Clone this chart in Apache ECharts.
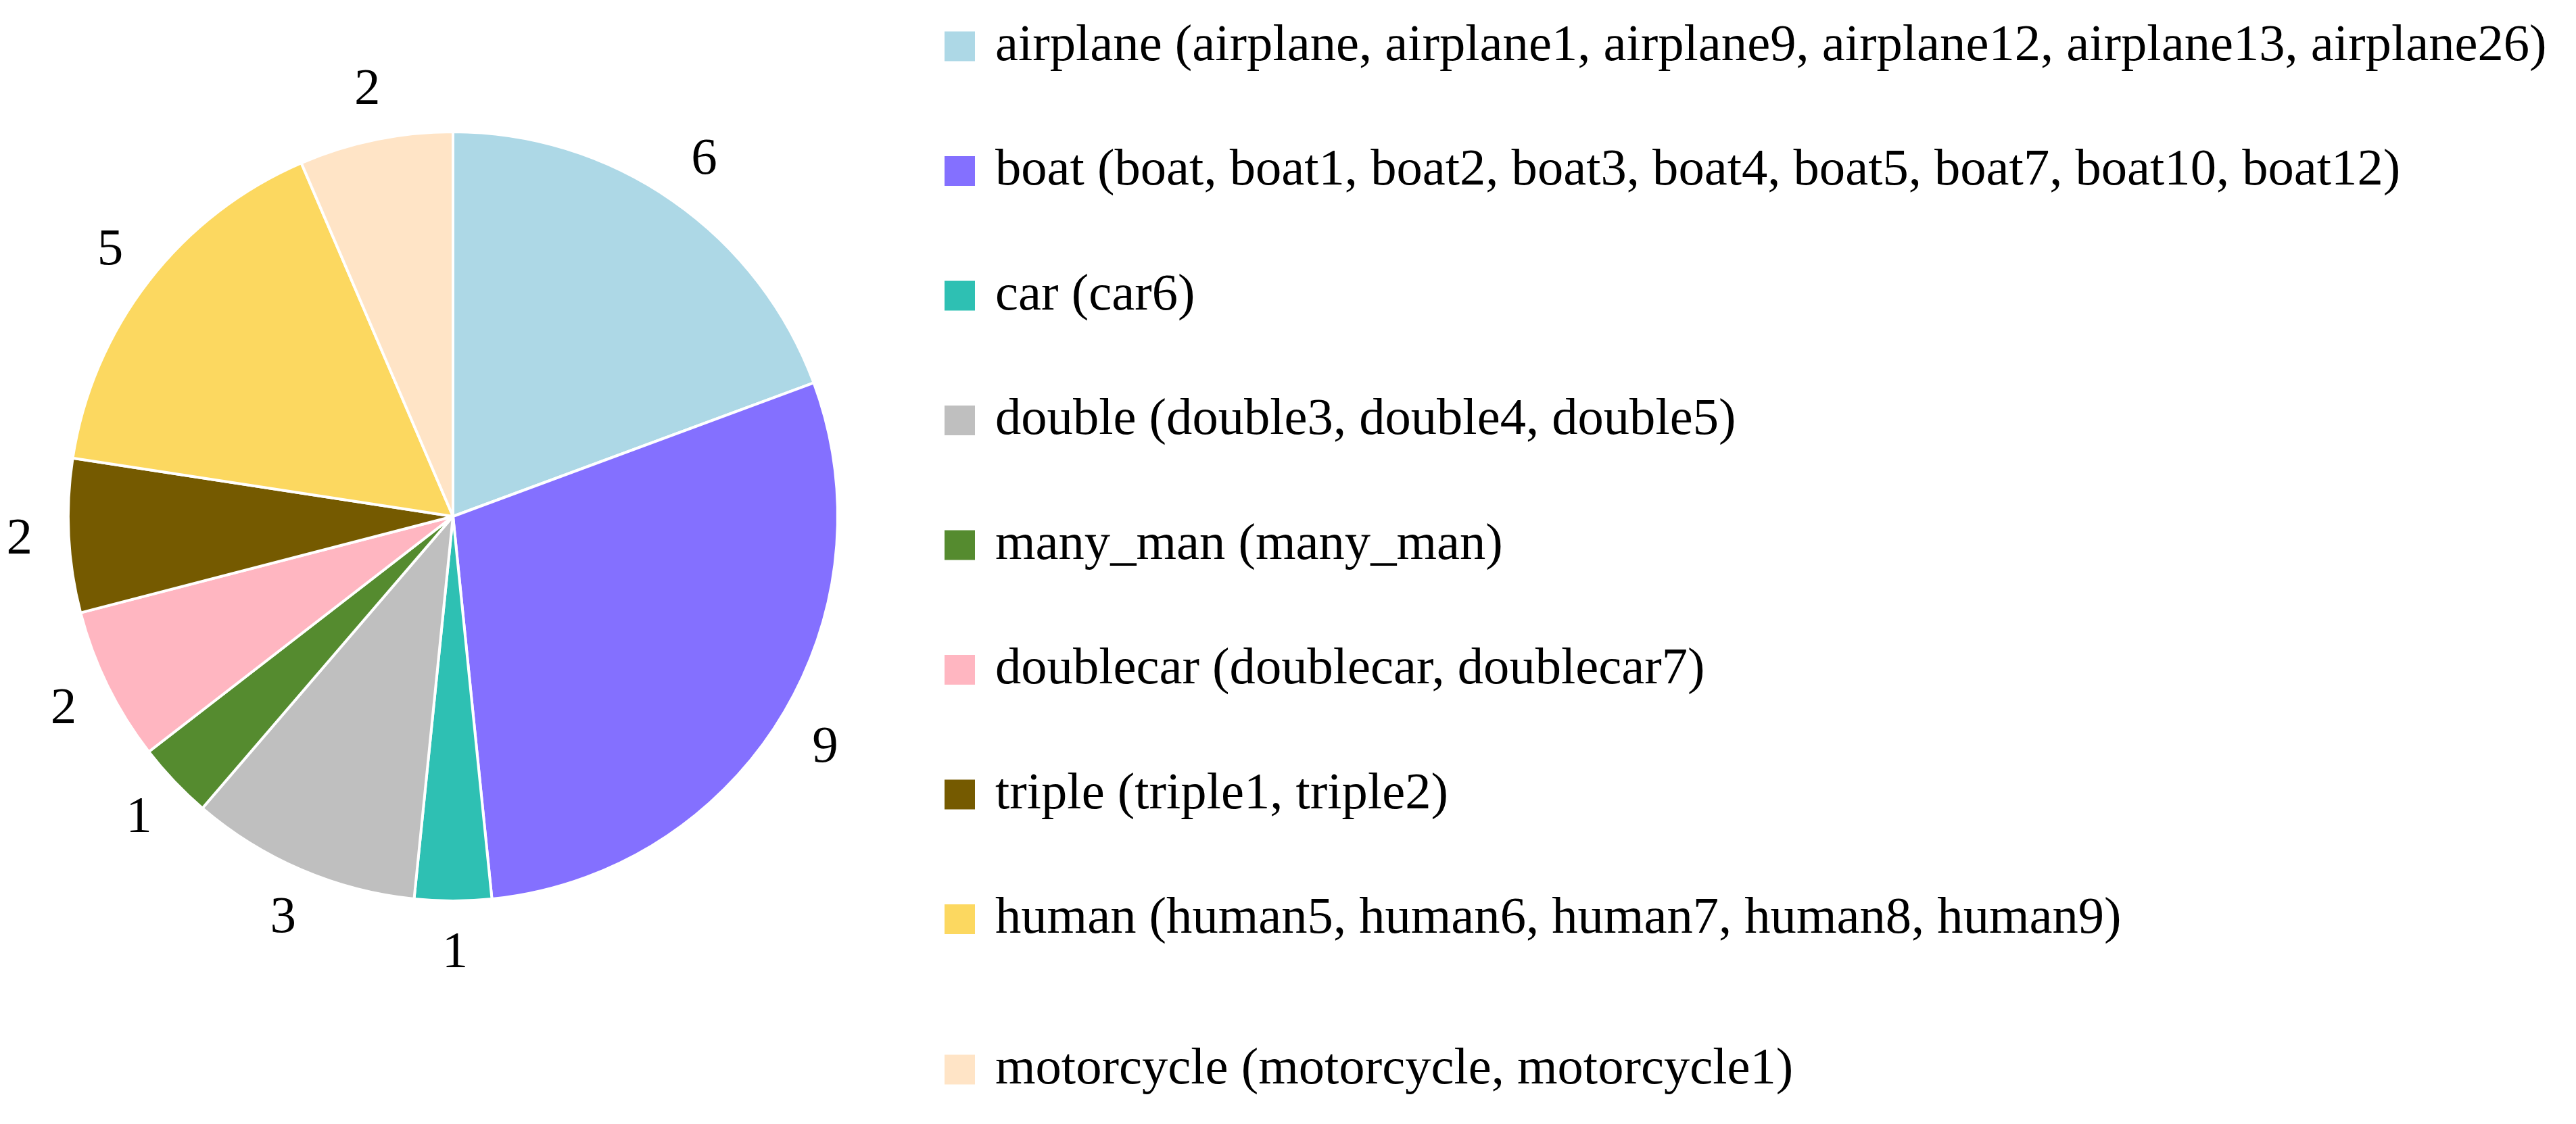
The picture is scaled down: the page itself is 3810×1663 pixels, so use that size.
<!DOCTYPE html>
<html>
<head>
<meta charset="utf-8">
<script src="https://cdn.jsdelivr.net/npm/echarts@6/dist/echarts.min.js"></script>
<style>
html,body{margin:0;padding:0;background:#fff;}
#c{width:3810px;height:1663px;}
</style>
</head>
<body>
<div id="c"></div>
<script>
const categories = ['airplane','boat','car','double','many_man','doublecar','triple','human','motorcycle'];
const members = [
  ['airplane','airplane1','airplane9','airplane12','airplane13','airplane26'],
  ['boat','boat1','boat2','boat3','boat4','boat5','boat7','boat10','boat12'],
  ['car6'],
  ['double3','double4','double5'],
  ['many_man'],
  ['doublecar','doublecar7'],
  ['triple1','triple2'],
  ['human5','human6','human7','human8','human9'],
  ['motorcycle','motorcycle1']
];
const values = [6, 9, 1, 3, 1, 2, 2, 5, 2];
const colors = ['#ADD8E6','#8470FF','#2EC0B3','#BFBFBF','#558B2F','#FFB6C1','#755A00','#FCD860','#FFE4C6'];

const names = categories.map((c, i) => c + ' (' + members[i].join(', ') + ')');
const pieData = names.map((n, i) => ({ name: n, value: values[i], itemStyle: { color: colors[i] } }));
const labelData = names.map((n, i) => ({ name: n, value: values[i] }));

const FONT = 'Liberation Serif';
const legendText = {
  fontFamily: FONT,
  fontSize: 76.6,
  color: '#000',
  lineHeight: 46,
  padding: [0, 0, 0, 24]
};
const legendBase = {
  orient: 'vertical',
  left: 1390,
  itemWidth: 47,
  itemHeight: 46,
  itemGap: 107.5,
  icon: 'rect',
  textStyle: legendText
};

const chart = echarts.init(document.getElementById('c'), null, { renderer: 'canvas' });
chart.setOption({
  backgroundColor: '#ffffff',
  animation: false,
  legend: [
    Object.assign({}, legendBase, { top: 25, data: names.slice(0, 8) }),
    Object.assign({}, legendBase, { top: 1539, data: names.slice(8) })
  ],
  series: [{
    type: 'pie',
    center: [670, 764],
    radius: 569,
    startAngle: 90,
    clockwise: true,
    avoidLabelOverlap: false,
    data: pieData,
    itemStyle: { borderColor: '#ffffff', borderWidth: 4 },
    label: { show: false },
    labelLine: { show: false },
    emphasis: { disabled: true },
    silent: true
  }, {
    // transparent ring that only carries the value labels
    type: 'pie',
    center: [673, 766],
    radius: [612, 672],
    startAngle: 90,
    clockwise: true,
    avoidLabelOverlap: false,
    data: labelData,
    itemStyle: { color: 'rgba(0,0,0,0)', borderWidth: 0 },
    label: {
      show: true,
      position: 'inside',
      formatter: '{c}',
      fontFamily: FONT,
      fontSize: 77,
      color: '#000'
    },
    labelLine: { show: false },
    emphasis: { disabled: true },
    silent: true
  }]
});
</script>
</body>
</html>
